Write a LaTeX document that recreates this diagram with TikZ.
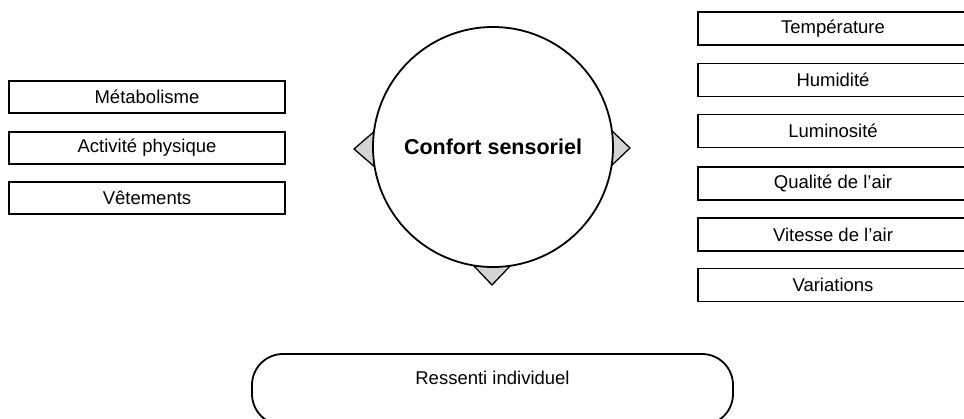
\documentclass[tikz,border=0pt]{standalone}
\usepackage{fontspec}
\setmainfont{Liberation Sans}
\begin{document}
\begin{tikzpicture}[x=1pt,y=-1pt,
  factbox/.style={draw=black,line width=1.3pt,fill=white,rectangle,inner sep=0pt,
    font=\fontsize{18.5}{22}\selectfont},
  leftbox/.style={factbox,minimum width=276pt,minimum height=32pt},
  rightbox/.style={factbox,minimum width=270pt,minimum height=33pt},
  tri/.style={draw=black,line width=1.3pt,fill=black!17,line join=miter},
  bigcircle/.style={draw=black,line width=1.8pt,fill=white,circle,minimum size=240pt,inner sep=0pt,
    font=\bfseries\fontsize{21.5}{25}\selectfont},
  pill/.style={draw=black,line width=1.8pt,rounded corners=31pt,rectangle,minimum width=481pt,minimum height=71pt,inner sep=0pt},
  plaintext/.style={font=\fontsize{18.5}{22}\selectfont,inner sep=0pt}
]
\useasboundingbox (0,0) rectangle (964,418);
\clip (0,0) rectangle (964,418);

% triangles behind the circle
\coordinate (tlA) at (354,149);
\coordinate (trA) at (630,148);
\coordinate (tbA) at (492,285);
\draw[tri] (tlA) -- (376,130) -- (376,168) -- cycle;
\draw[tri] (trA) -- (610,129) -- (610,167) -- cycle;
\draw[tri] (tbA) -- (473,265) -- (511,265) -- cycle;

\node[bigcircle] (confort) at (493,147) {Confort sensoriel};

% left boxes
\node[leftbox] (meta) at (147,97) {Métabolisme};
\node[leftbox] (acti) at (147,148) {Activité physique};
\node[leftbox] (vete) at (147,198) {Vêtements};

% right boxes
\node[rightbox] (temp) at (833,28.5) {Température};
\node[rightbox] (humi) at (833,80) {Humidité};
\node[rightbox] (lumi) at (833,131) {Luminosité};
\node[rightbox] (qual) at (833,183.5) {Qualité de l’air};
\node[rightbox] (vite) at (833,234.5) {Vitesse de l’air};
\node[rightbox] (vari) at (833,285) {Variations};

% bottom rounded box
\node[pill] (ress) at (492.5,389.5) {};
\node[plaintext] (resstext) at ([yshift=11.5pt]ress.center) {Ressenti individuel};
\end{tikzpicture}
\end{document}
